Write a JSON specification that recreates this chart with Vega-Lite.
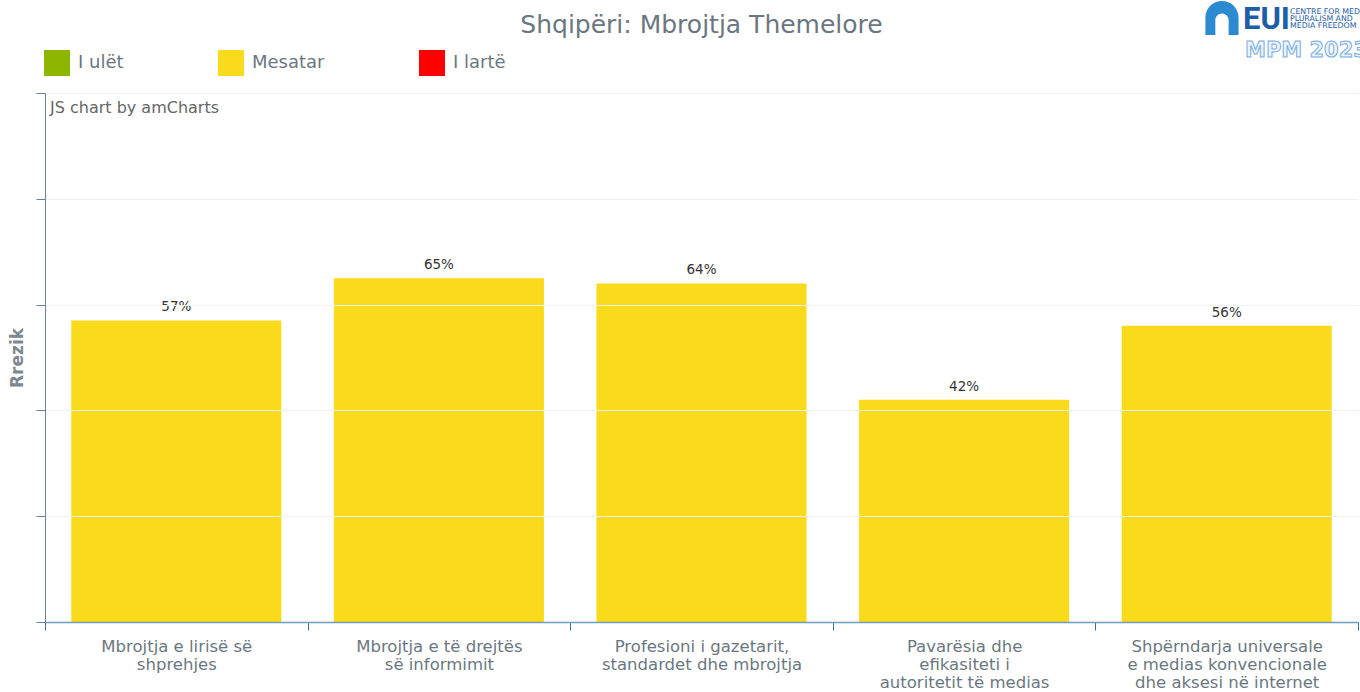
{
  "$schema": "https://vega.github.io/schema/vega-lite/v6.json",
  "width": 1313,
  "height": 529,
  "autosize": {"type": "none"},
  "padding": {"left": 45, "top": 93, "right": 2, "bottom": 70},
  "background": "white",
  "config": {"font": "DejaVu Sans", "view": {"stroke": null}},
  "title": {"text": "Shqipëri: Mbrojtja Themelore", "fontSize": 25, "fontWeight": "normal", "color": "#6b7780", "anchor": "middle", "offset": -37},
  "data": {"values": [
    {"area": "Mbrojtja e lirisë së|shprehjes", "value": 0.57, "risk": "Mesatar"},
    {"area": "Mbrojtja e të drejtës|së informimit", "value": 0.65, "risk": "Mesatar"},
    {"area": "Profesioni i gazetarit,|standardet dhe mbrojtja", "value": 0.64, "risk": "Mesatar"},
    {"area": "Pavarësia dhe|efikasiteti i|autoritetit të medias", "value": 0.42, "risk": "Mesatar"},
    {"area": "Shpërndarja universale|e medias konvencionale|dhe aksesi në internet", "value": 0.56, "risk": "Mesatar"}
  ]},
  "layer": [
    {
      "mark": {"type": "bar", "width": {"band": 0.8}},
      "encoding": {
        "x": {
          "field": "area", "type": "nominal",
          "scale": {"domain": ["Mbrojtja e lirisë së|shprehjes", "Mbrojtja e të drejtës|së informimit", "Profesioni i gazetarit,|standardet dhe mbrojtja", "Pavarësia dhe|efikasiteti i|autoritetit të medias", "Shpërndarja universale|e medias konvencionale|dhe aksesi në internet"], "paddingInner": 0, "paddingOuter": 0},
          "axis": {
            "title": null,
            "labelAngle": 0,
            "labelExpr": "split(datum.label, '|')",
            "labelColor": "#6b7780",
            "labelFontSize": 16.5,
            "labelLineHeight": 18,
            "labelLimit": 400,
            "labelPadding": 8,
            "labelBaseline": "top",
            "tickBand": "extent",
            "tickSize": 8,
            "tickColor": "#3f6f93",
            "domainColor": "#6f9cc0",
            "domainWidth": 1.5,
            "grid": false,
            "zindex": 2
          }
        },
        "y": {
          "field": "value", "type": "quantitative",
          "scale": {"domain": [0, 1]},
          "axis": {
            "title": "Rrezik",
            "titleFontSize": 17,
            "titleFontWeight": "bold",
            "titleColor": "#7d8891",
            "titlePadding": 9,
            "labels": false,
            "values": [0, 0.2, 0.4, 0.6, 0.8, 1],
            "tickSize": 9,
            "tickColor": "#6c7f8f",
            "domainColor": "#6c8396",
            "grid": true,
            "gridColor": "#f0f0f0",
            "zindex": 1
          }
        },
        "color": {
          "field": "risk", "type": "nominal",
          "scale": {"domain": ["I ulët", "Mesatar", "I lartë"], "range": ["#8db600", "#fadb1b", "#ff0000"]},
          "legend": {
            "title": null,
            "orient": "none",
            "legendX": -1,
            "legendY": -43,
            "direction": "horizontal",
            "symbolType": "square",
            "symbolSize": 676,
            "symbolStrokeWidth": 0,
            "labelFontSize": 18,
            "labelColor": "#6b7780",
            "labelOffset": 8,
            "columnPadding": 94
          }
        }
      }
    },
    {
      "mark": {"type": "text", "baseline": "bottom", "dy": -6, "fontSize": 13.5, "color": "#333333"},
      "encoding": {
        "x": {"field": "area", "type": "nominal"},
        "y": {"field": "value", "type": "quantitative"},
        "text": {"field": "value", "type": "quantitative", "format": ".0%"}
      }
    },
    {
      "data": {"values": [{"t": "JS chart by amCharts"}]},
      "mark": {"type": "text", "align": "left", "baseline": "middle", "dx": 5, "fontSize": 16, "letterSpacing": 0.8, "color": "#666666"},
      "encoding": {
        "x": {"datum": "Mbrojtja e lirisë së|shprehjes", "type": "nominal", "bandPosition": 0},
        "y": {"datum": 0.972, "type": "quantitative"},
        "text": {"field": "t", "type": "nominal"}
      }
    },
    {
      "data": {"values": [{"t": "logo"}]},
      "mark": {"type": "point", "filled": true, "color": "#2b8ad0", "opacity": 1, "size": 1100,
        "shape": "M-1,1 L-1,-0.05 A1,1 0 0 1 1,-0.05 L1,1 L0.4,1 L0.4,0.1 A0.4,0.4 0 0 0 -0.4,0.1 L-0.4,1 Z"},
      "encoding": {
        "x": {"datum": "Shpërndarja universale|e medias konvencionale|dhe aksesi në internet", "type": "nominal", "bandPosition": 0.482},
        "y": {"datum": 1.141, "type": "quantitative"}
      }
    },
    {
      "data": {"values": [{"t": "EUI"}]},
      "mark": {"type": "text", "align": "left", "baseline": "middle", "dx": -115, "font": "Roboto", "fontWeight": "bold", "fontSize": 31, "color": "#1d5ea8"},
      "encoding": {
        "x": {"datum": "Shpërndarja universale|e medias konvencionale|dhe aksesi në internet", "type": "nominal", "bandPosition": 1},
        "y": {"datum": 1.138, "type": "quantitative"},
        "text": {"field": "t", "type": "nominal"}
      }
    },
    {
      "data": {"values": [{"t": "CENTRE FOR MEDIA|PLURALISM AND|MEDIA FREEDOM"}]},
      "mark": {"type": "text", "align": "left", "baseline": "top", "lineBreak": "|", "lineHeight": 7, "dx": -68, "font": "DejaVu Sans", "fontSize": 7.8, "color": "#1d5ea8"},
      "encoding": {
        "x": {"datum": "Shpërndarja universale|e medias konvencionale|dhe aksesi në internet", "type": "nominal", "bandPosition": 1},
        "y": {"datum": 1.161, "type": "quantitative"},
        "text": {"field": "t", "type": "nominal"}
      }
    },
    {
      "data": {"values": [{"t": "MPM 2023"}]},
      "mark": {"type": "text", "align": "left", "baseline": "middle", "dx": -113, "font": "DejaVu Sans", "fontWeight": "bold", "fontSize": 21, "letterSpacing": 2, "fill": "#eaf3fb", "stroke": "#7aaee0", "strokeWidth": 1},
      "encoding": {
        "x": {"datum": "Shpërndarja universale|e medias konvencionale|dhe aksesi në internet", "type": "nominal", "bandPosition": 1},
        "y": {"datum": 1.08, "type": "quantitative"},
        "text": {"field": "t", "type": "nominal"}
      }
    }
  ]
}
